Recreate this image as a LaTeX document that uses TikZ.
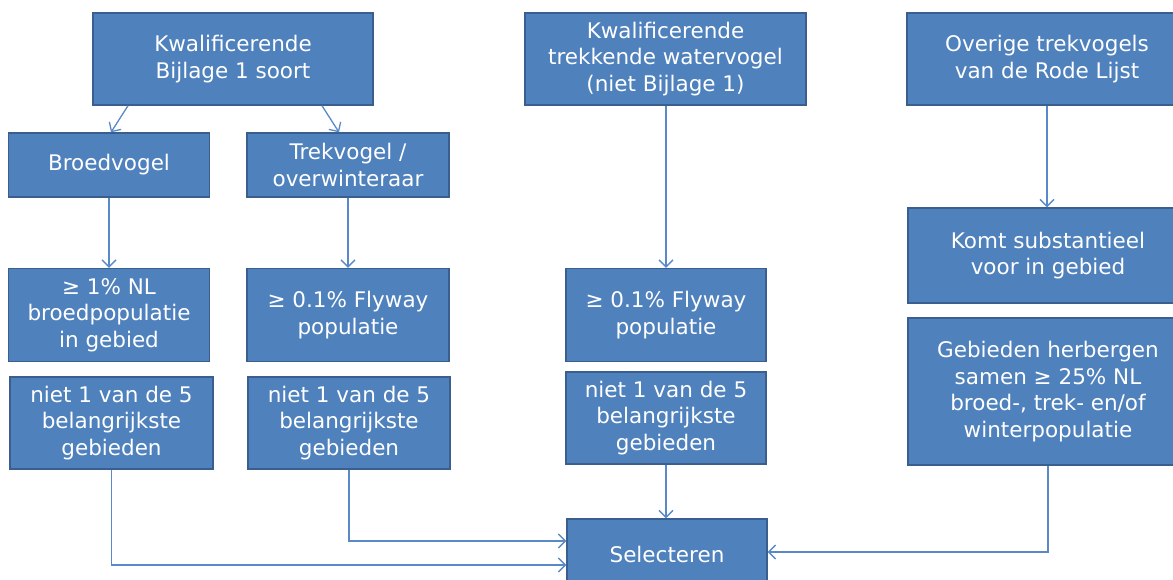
\documentclass[tikz,border=0pt]{standalone}
\usepackage{fontspec}
\setmainfont{DejaVu Sans}
\usetikzlibrary{arrows.meta,calc}
\definecolor{boxfill}{HTML}{4F81BD}
\definecolor{boxline}{HTML}{3A5F8F}
\definecolor{arrowc}{HTML}{5A89C8}
\tikzset{
  box/.style={draw=boxline, line width=1.4pt, fill=boxfill, text=white, align=center,
    inner sep=2pt, font=\fontsize{21.5}{26.5}\selectfont},
  conn/.style={draw=arrowc, line width=1.3pt, -{Straight Barb[length=7pt,width=14pt]}}
}
\begin{document}
\begin{tikzpicture}[x=1pt,y=-1pt]
\useasboundingbox (0,0) rectangle (1173,579);
\clip (0,0) rectangle (1173,579);
% left column
\node[box, minimum width=280pt, minimum height=92pt] (b1) at (233,59) {Kwalificerende\\Bijlage 1 soort};
\node[box, minimum width=201pt, minimum height=64pt] (broed) at (109,165) {Broedvogel};
\node[box, minimum width=202pt, minimum height=64pt] (trek) at (348,165) {Trekvogel /\\overwinteraar};
\node[box, minimum width=201pt, minimum height=93pt] (p1) at (109,315) {≥ 1\% NL\\broedpopulatie\\in gebied};
\node[box, minimum width=202pt, minimum height=93pt] (p2) at (348,315) {≥ 0.1\% Flyway\\populatie};
\node[box, minimum width=203pt, minimum height=92pt] (n1) at (111.5,423) {niet 1 van de 5\\belangrijkste\\gebieden};
\node[box, minimum width=202pt, minimum height=92pt] (n2) at (349,423) {niet 1 van de 5\\belangrijkste\\gebieden};
% middle column
\node[box, minimum width=281pt, minimum height=92pt] (wv) at (665.5,59) {Kwalificerende\\trekkende watervogel\\(niet Bijlage 1)};
\node[box, minimum width=200pt, minimum height=93pt] (p3) at (666,315) {≥ 0.1\% Flyway\\populatie};
\node[box, minimum width=200pt, minimum height=92pt] (n3) at (666,418) {niet 1 van de 5\\belangrijkste\\gebieden};
\node[box, minimum width=200pt, minimum height=70pt] (sel) at (667,554) {Selecteren};
% right column
\node[box, minimum width=280pt, minimum height=92pt] (ov) at (1047,59) {Overige trekvogels\\van de Rode Lijst};
\node[box, minimum width=280pt, minimum height=95pt] (ks) at (1048,255.5) {Komt substantieel\\voor in gebied};
\node[box, minimum width=280pt, minimum height=147pt] (gh) at (1048,391.5) {Gebieden herbergen\\samen ≥ 25\% NL\\broed-, trek- en/of\\winterpopulatie};
% connectors
\draw[conn] ([xshift=-105pt]b1.south) -- ([xshift=2pt]broed.north);
\draw[conn] ([xshift=89pt]b1.south) -- ([xshift=-9pt]trek.north);
\draw[conn] (broed) -- (p1);
\draw[conn] (trek) -- (p2);
\draw[conn] (p3.north |- wv.south) -- (p3.north);
\draw[conn] (ov.south) -- (ov.south |- ks.north);
\draw[conn] (n3.south) -- (n3.south |- sel.north);
\draw[conn] (n1.south) |- ([yshift=-11pt]sel.west);
\draw[conn] (n2.south) |- ([yshift=13pt]sel.west);
\draw[conn] (gh.south) |- ([yshift=2pt]sel.east);
\end{tikzpicture}
\end{document}
